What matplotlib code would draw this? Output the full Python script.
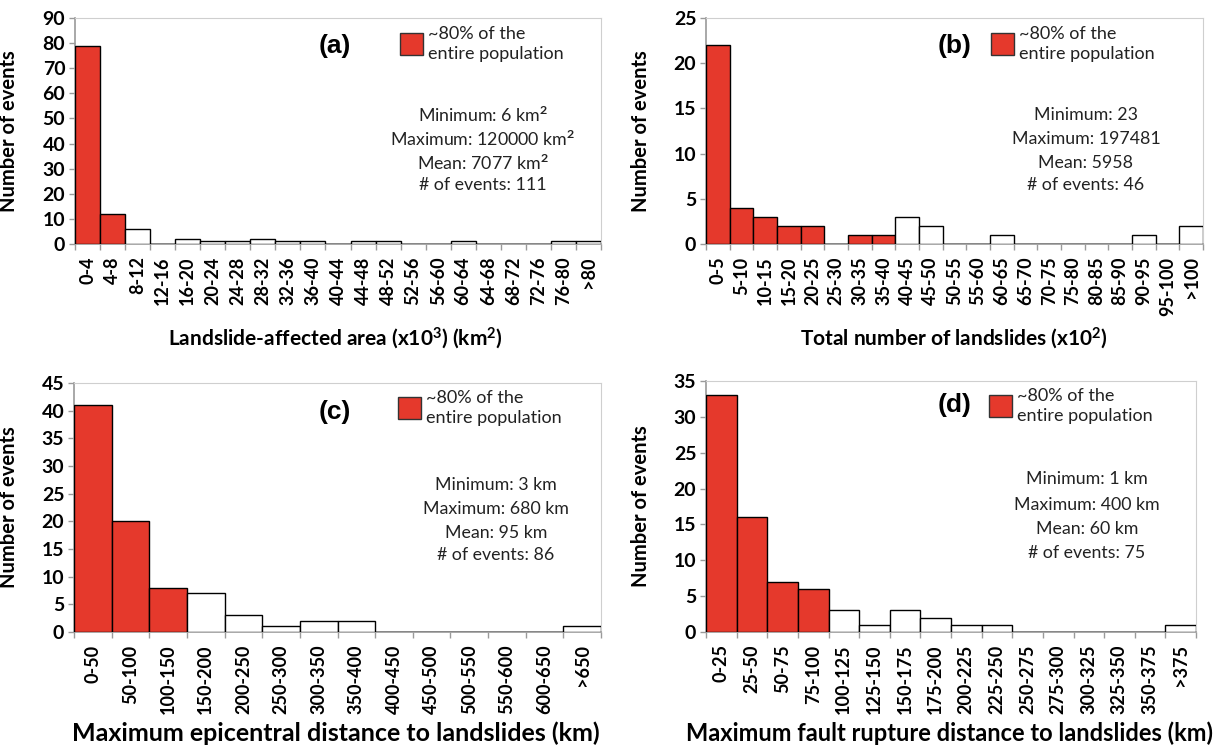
import numpy as np
import matplotlib
matplotlib.use("Agg")
import matplotlib.pyplot as plt
from matplotlib.patches import Rectangle

plt.rcParams['font.family'] = ['Lato', 'DejaVu Sans']
plt.rcParams['mathtext.fontset'] = 'custom'
plt.rcParams['mathtext.rm'] = 'Lato'
plt.rcParams['mathtext.bf'] = 'Lato:bold'
plt.rcParams['mathtext.it'] = 'Lato:italic'

RED = '#e5392c'

# ---- data ----
labels_a = ['0-4', '4-8', '8-12', '12-16', '16-20', '20-24', '24-28', '28-32', '32-36', '36-40',
            '40-44', '44-48', '48-52', '52-56', '56-60', '60-64', '64-68', '68-72', '72-76',
            '76-80', '>80']
counts_a = [79, 12, 6, 0, 2, 1, 1, 2, 1, 1, 0, 1, 1, 0, 0, 1, 0, 0, 0, 1, 1]
red_a = 2

labels_b = ['0-5', '5-10', '10-15', '15-20', '20-25', '25-30', '30-35', '35-40', '40-45', '45-50',
            '50-55', '55-60', '60-65', '65-70', '70-75', '75-80', '80-85', '85-90', '90-95',
            '95-100', '>100']
counts_b = [22, 4, 3, 2, 2, 0, 1, 1, 3, 2, 0, 0, 1, 0, 0, 0, 0, 0, 1, 0, 2]
red_b = 8

labels_c = ['0-50', '50-100', '100-150', '150-200', '200-250', '250-300', '300-350', '350-400',
            '400-450', '450-500', '500-550', '550-600', '600-650', '>650']
counts_c = [41, 20, 8, 7, 3, 1, 2, 2, 0, 0, 0, 0, 0, 1]
red_c = 3

labels_d = ['0-25', '25-50', '50-75', '75-100', '100-125', '125-150', '150-175', '175-200',
            '200-225', '225-250', '250-275', '275-300', '300-325', '325-350', '350-375', '>375']
counts_d = [33, 16, 7, 6, 3, 1, 3, 2, 1, 1, 0, 0, 0, 0, 0, 1]
red_d = 4

stats_a = [r'Minimum: 6 km$^\mathbf{2}$', r'Maximum: 120000 km$^\mathbf{2}$',
           r'Mean: 7077 km$^\mathbf{2}$', '# of events: 111']
stats_b = ['Minimum: 23', 'Maximum: 197481', 'Mean: 5958', '# of events: 46']
stats_c = ['Minimum: 3 km', 'Maximum: 680 km', 'Mean: 95 km', '# of events: 86']
stats_d = ['Minimum: 1 km', 'Maximum: 400 km', 'Mean: 60 km', '# of events: 75']

xlab_a = r'Landslide-affected area (x10$^\mathbf{3}$) (km$^\mathbf{2}$)'
xlab_b = r'Total number of landslides (x10$^\mathbf{2}$)'
xlab_c = 'Maximum epicentral distance to landslides (km)'
xlab_d = 'Maximum fault rupture distance to landslides (km)'

W, H = 1225, 748
fig = plt.figure(figsize=(W / 100, H / 100), dpi=100)


def fx(px):
    return px / W


def fy(py):
    return (H - py) / H


def panel(box, labels, counts, nred, ymax, ystep, tag, tag_xy, leg_xy, stats, stats_x, stats_y,
          xlabel, xlabel_xy, xlabel_size, ylab_x):
    x0, y0, x1, y1 = box
    ax = fig.add_axes([fx(x0), fy(y1), (x1 - x0) / W, (y1 - y0) / H])
    n = len(labels)
    x = np.arange(n)
    colors = [RED if i < nred else 'white' for i in range(n)]
    ax.bar(x, counts, width=1.0, align='edge', color=colors, edgecolor='black', linewidth=1.0,
           zorder=3)
    ax.set_xlim(0, n)
    ax.set_ylim(0, ymax)
    ax.set_yticks(np.arange(0, ymax + 1, ystep))
    ax.set_xticks(x + 0.5)
    ax.set_xticklabels(labels, rotation=90)
    ax.set_xticks(np.arange(n + 1), minor=True)
    ax.tick_params(axis='x', which='major', length=0, pad=9, labelsize=13)
    ax.tick_params(axis='x', which='minor', length=4, color='#9a9a9a', width=1)
    ax.tick_params(axis='y', length=4, color='#9a9a9a', width=1, labelsize=14, pad=3)
    for t in ax.get_xticklabels() + ax.get_yticklabels():
        t.set_fontweight('bold')
    for s in ['top', 'right']:
        ax.spines[s].set_color('#cfcfcf')
    for s in ['left', 'bottom']:
        ax.spines[s].set_color('#9a9a9a')
        ax.spines[s].set_linewidth(1.2)
    ax.set_ylabel('Number of events', fontsize=14.5, fontweight='bold')
    ax.yaxis.set_label_coords((ylab_x - x0) / (x1 - x0), 0.5)

    # panel tag
    fig.text(fx(tag_xy[0]), fy(tag_xy[1]), tag, ha='center', va='center',
             fontsize=19, fontweight='bold', family='Liberation Sans')

    # legend: red square + two line caption
    lx, ly = leg_xy
    fig.add_artist(Rectangle((fx(lx), fy(ly + 22)), 23 / W, 22 / H, transform=fig.transFigure,
                             facecolor=RED, edgecolor='#333333', linewidth=1))
    fig.text(fx(lx + 28), fy(ly + 11), '~80% of the\nentire population', ha='left', va='center',
             fontsize=13, linespacing=1.25, color='#222222')

    for line, yy in zip(stats, stats_y):
        fig.text(fx(stats_x), fy(yy), line, ha='center', va='center_baseline', fontsize=12.8,
                 color='#222222')

    fig.text(fx(xlabel_xy[0]), fy(xlabel_xy[1]), xlabel, ha='center', va='center',
             fontsize=xlabel_size, fontweight='bold')
    return ax


panel((75, 18, 601, 244), labels_a, counts_a, red_a, 90, 10, '(a)', (335, 46), (400, 33),
      stats_a, 483, [113, 137, 161, 184], xlab_a, (335, 338), 15, 19)

panel((706, 18, 1203, 244), labels_b, counts_b, red_b, 25, 5, '(b)', (955, 46), (991, 33),
      stats_b, 1086, [113, 137, 161, 184], xlab_b, (954, 338), 15, 651)

panel((74, 383, 601, 632), labels_c, counts_c, red_c, 45, 5, '(c)', (335, 412), (398, 397),
      stats_c, 496, [483, 507, 531, 554], xlab_c, (336, 733), 18, 19)

panel((706, 381, 1196, 632), labels_d, counts_d, red_d, 35, 5, '(d)', (955, 405), (989, 395),
      stats_d, 1087, [478, 503, 527, 551], xlab_d, (950, 733), 17, 651)

fig.savefig('out.png', dpi=100)
